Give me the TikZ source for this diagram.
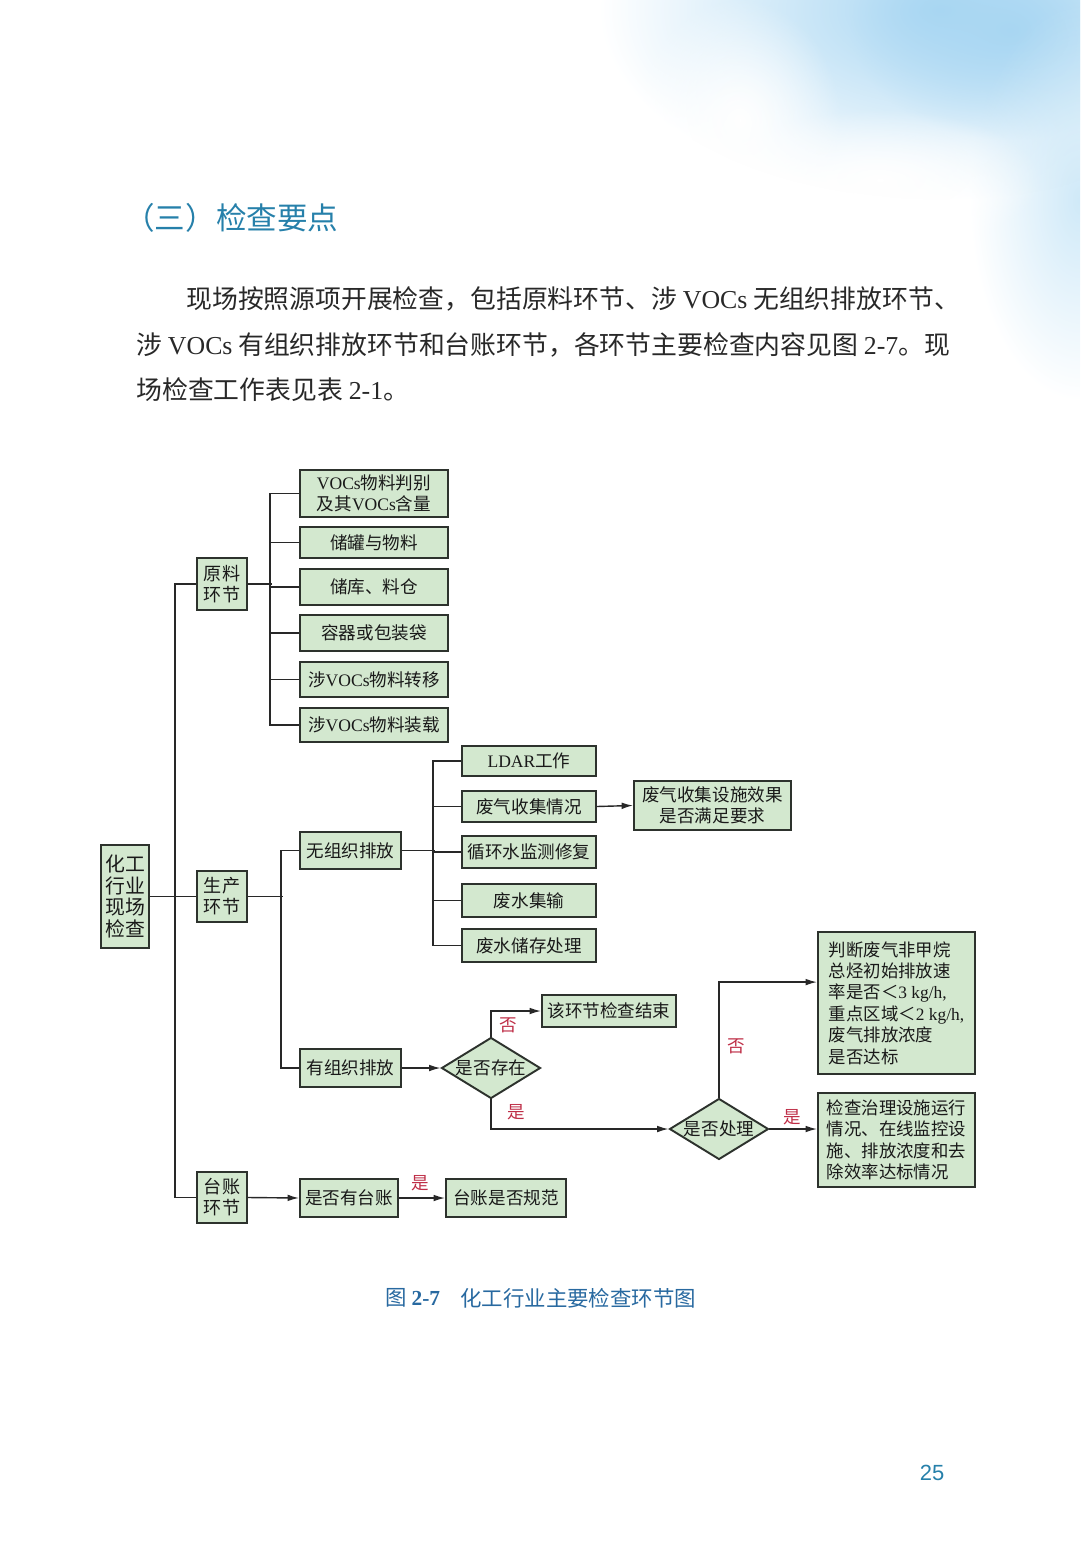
\documentclass[tikz,border=0pt]{standalone}
\usepackage{fontspec}
\setmainfont{Noto Sans CJK SC}
\newfontfamily\lat{Liberation Serif}
\newfontfamily\latsans{Liberation Sans}
\usetikzlibrary{shapes.geometric,arrows.meta,fadings}
\definecolor{boxfill}{RGB}{211,232,207}
\definecolor{boxline}{RGB}{45,50,45}
\definecolor{linec}{RGB}{40,40,40}
\definecolor{redlab}{RGB}{190,45,70}
\definecolor{titlec}{RGB}{38,128,170}
\definecolor{capc}{RGB}{40,105,160}
\definecolor{bodyc}{RGB}{40,40,40}
\definecolor{sky}{RGB}{168,214,242}
\tikzfading[name=softball, inner color=transparent!0, outer color=transparent!100]
\tikzset{
  box/.style={draw=boxline, fill=boxfill, line width=1.1pt, inner sep=0pt, align=center,
    text=black!90, font=\fontsize{10}{12}\selectfont},
  dia/.style={diamond, draw=boxline, fill=boxfill, line width=1.1pt, inner sep=0pt,
    shape aspect=1.62, text=black!90, font=\fontsize{10}{12}\selectfont,
    minimum width=1.98cm, minimum height=1.22cm},
  ln/.style={draw=linec, line width=0.8pt},
  arr/.style={ln, -{Latex[length=6.5pt,width=3.8pt]}},
  lab/.style={text=redlab, inner sep=0pt, font=\fontsize{10}{12}\selectfont},
  body/.style={anchor=west, inner sep=0pt, text=bodyc, font=\fontsize{14.7}{16}\selectfont}
}
% \bx[opts]{name}{x1}{y1}{x2}{y2}{text}
\newcommand\bx[7][]{\node[box,#1,minimum width={(#5-#3)*0.02cm},minimum height={(#6-#4)*0.02cm}] (#2) at ({(#3+#5)/2},{(#4+#6)/2}) {#7};}
\begin{document}
\begin{tikzpicture}[x=0.02cm,y=-0.02cm]
\useasboundingbox (0,0) rectangle (1080,1551);
% sky background
\begin{scope}
\clip (0,0) rectangle (1080,1551);
\fill[sky, path fading=softball] (940,10) ellipse (340 and 190);
\fill[sky, path fading=softball] (1010,30) ellipse (160 and 110);
\fill[sky!55, path fading=softball] (1080,200) ellipse (110 and 200);
\fill[white, path fading=softball] (880,180) ellipse (160 and 70);
\fill[white, path fading=softball] (740,120) ellipse (100 and 120);
\end{scope}
% heading and body text
\node[anchor=west, inner sep=0pt, text=titlec, font=\fontsize{17.4}{20}\selectfont] (title) at (124,218) {（三）检查要点};
\node[body] (p1) at (186,299) {现场按照源项开展检查，包括原料环节、涉 {\lat VOCs} 无组织排放环节、};
\node[body] (p2) at (136,345) {涉 {\lat VOCs} 有组织排放环节和台账环节，各环节主要检查内容见图 {\lat 2-7}。现};
\node[body] (p3) at (136,390) {场检查工作表见表 {\lat 2-1}。};
% nodes
\bx[font=\fontsize{11.3}{12.3}\selectfont]{root}{101}{845}{149}{948}{化工\\行业\\现场\\检查}
\bx[font=\fontsize{10.3}{11.9}\selectfont]{yl}{197}{558}{247}{610}{原料\\环节}
\bx[font=\fontsize{10.3}{11.9}\selectfont]{sc}{197}{871}{247}{922}{生产\\环节}
\bx[font=\fontsize{10.3}{11.9}\selectfont]{tz}{197}{1172}{247}{1223}{台账\\环节}
\bx{r1}{300}{470}{448}{517}{{\lat VOCs}物料判别\\及其{\lat VOCs}含量}
\bx{r2}{300}{527}{448}{558}{储罐与物料}
\bx{r3}{300}{569}{448}{605}{储库、料仓}
\bx{r4}{300}{615}{448}{651}{容器或包装袋}
\bx{r5}{300}{662}{448}{697}{涉{\lat VOCs}物料转移}
\bx{r6}{300}{708}{448}{742}{涉{\lat VOCs}物料装载}
\bx{wz}{300}{832}{401}{869}{无组织排放}
\bx{yz}{300}{1049}{401}{1087}{有组织排放}
\bx{w1}{462}{746}{596}{776}{{\lat LDAR}工作}
\bx{w2}{462}{791}{596}{822}{废气收集情况}
\bx{w3}{462}{836}{596}{868}{循环水监测修复}
\bx{w4}{462}{884}{596}{917}{废水集输}
\bx{w5}{462}{929}{596}{962}{废水储存处理}
\bx{fq}{634}{781}{791}{830}{废气收集设施效果\\是否满足要求}
\bx{end}{542}{995}{676}{1027}{该环节检查结束}
\bx[align=left, font=\fontsize{9.9}{12.2}\selectfont]{judge}{818}{932}{975}{1074}{判断废气非甲烷\\总烃初始排放速\\率是否＜{\lat 3 kg/h,}\\重点区域＜{\lat 2 kg/h,}\\废气排放浓度\\是否达标}
\bx[align=left, font=\fontsize{9.9}{12.2}\selectfont]{check}{818}{1093}{975}{1187}{检查治理设施运行\\情况、在线监控设\\施、排放浓度和去\\除效率达标情况}
\bx{hz}{300}{1179}{398}{1217}{是否有台账}
\bx{gf}{446}{1179}{566}{1217}{台账是否规范}
\node[dia] (d1) at (491,1068) {是否存在};
\node[dia] (d2) at (719,1129) {是否处理};
% connectors
\draw[ln] (yl.west) -- ++(-21,0) |- (tz.west);
\draw[ln] (root.east) -- (sc.west);
\draw[ln] (yl.east) -- ++(24,0);
\draw[ln] (r1.west) -- ++(-29,0) |- (r6.west);
\foreach \n in {r2,r3,r4,r5} \draw[ln] (\n.west) -- ++(-29,0);
\draw[ln] (sc.east) -- ++(35,0);
\draw[ln] (wz.west) -- ++(-18,0) |- (yz.west);
\draw[ln] (wz.east) -- ++(33,0);
\draw[ln] (w1.west) -- ++(-28,0) |- (w5.west);
\foreach \n in {w2,w3,w4} \draw[ln] (\n.west) -- ++(-28,0);
\draw[arr] (w2.east) -- (fq.west);
\draw[arr] (yz.east) -- (d1.west);
\draw[arr] (d1.north) |- (end.west);
\draw[arr] (d1.south) |- (d2.west);
\draw[arr] (d2.north) |- ([yshift=11.9pt]judge.west);
\draw[arr] (d2.east) -- (d2.east -| check.west);
\draw[arr] (tz.east) -- (hz.west);
\draw[arr] (hz.east) -- (gf.west);
% labels
\node[lab] (l1) at (508,1025) {否};
\node[lab] (l2) at (516,1112) {是};
\node[lab] (l3) at (736,1046) {否};
\node[lab] (l4) at (792,1117) {是};
\node[lab] (l5) at (420,1183) {是};
% caption and page number
\node[anchor=west, inner sep=0pt, text=capc, font=\fontsize{12.2}{14}\selectfont] (cap1) at (385,1298) {图 {\lat\bfseries 2-7}};
\node[anchor=west, inner sep=0pt, text=capc, font=\fontsize{12.2}{14}\selectfont] (cap2) at (460,1298) {化工行业主要检查环节图};
\node[inner sep=0pt, text=titlec, font=\latsans\fontsize{12.5}{14}\selectfont] (pg) at (932,1473) {25};
\end{tikzpicture}
\end{document}
